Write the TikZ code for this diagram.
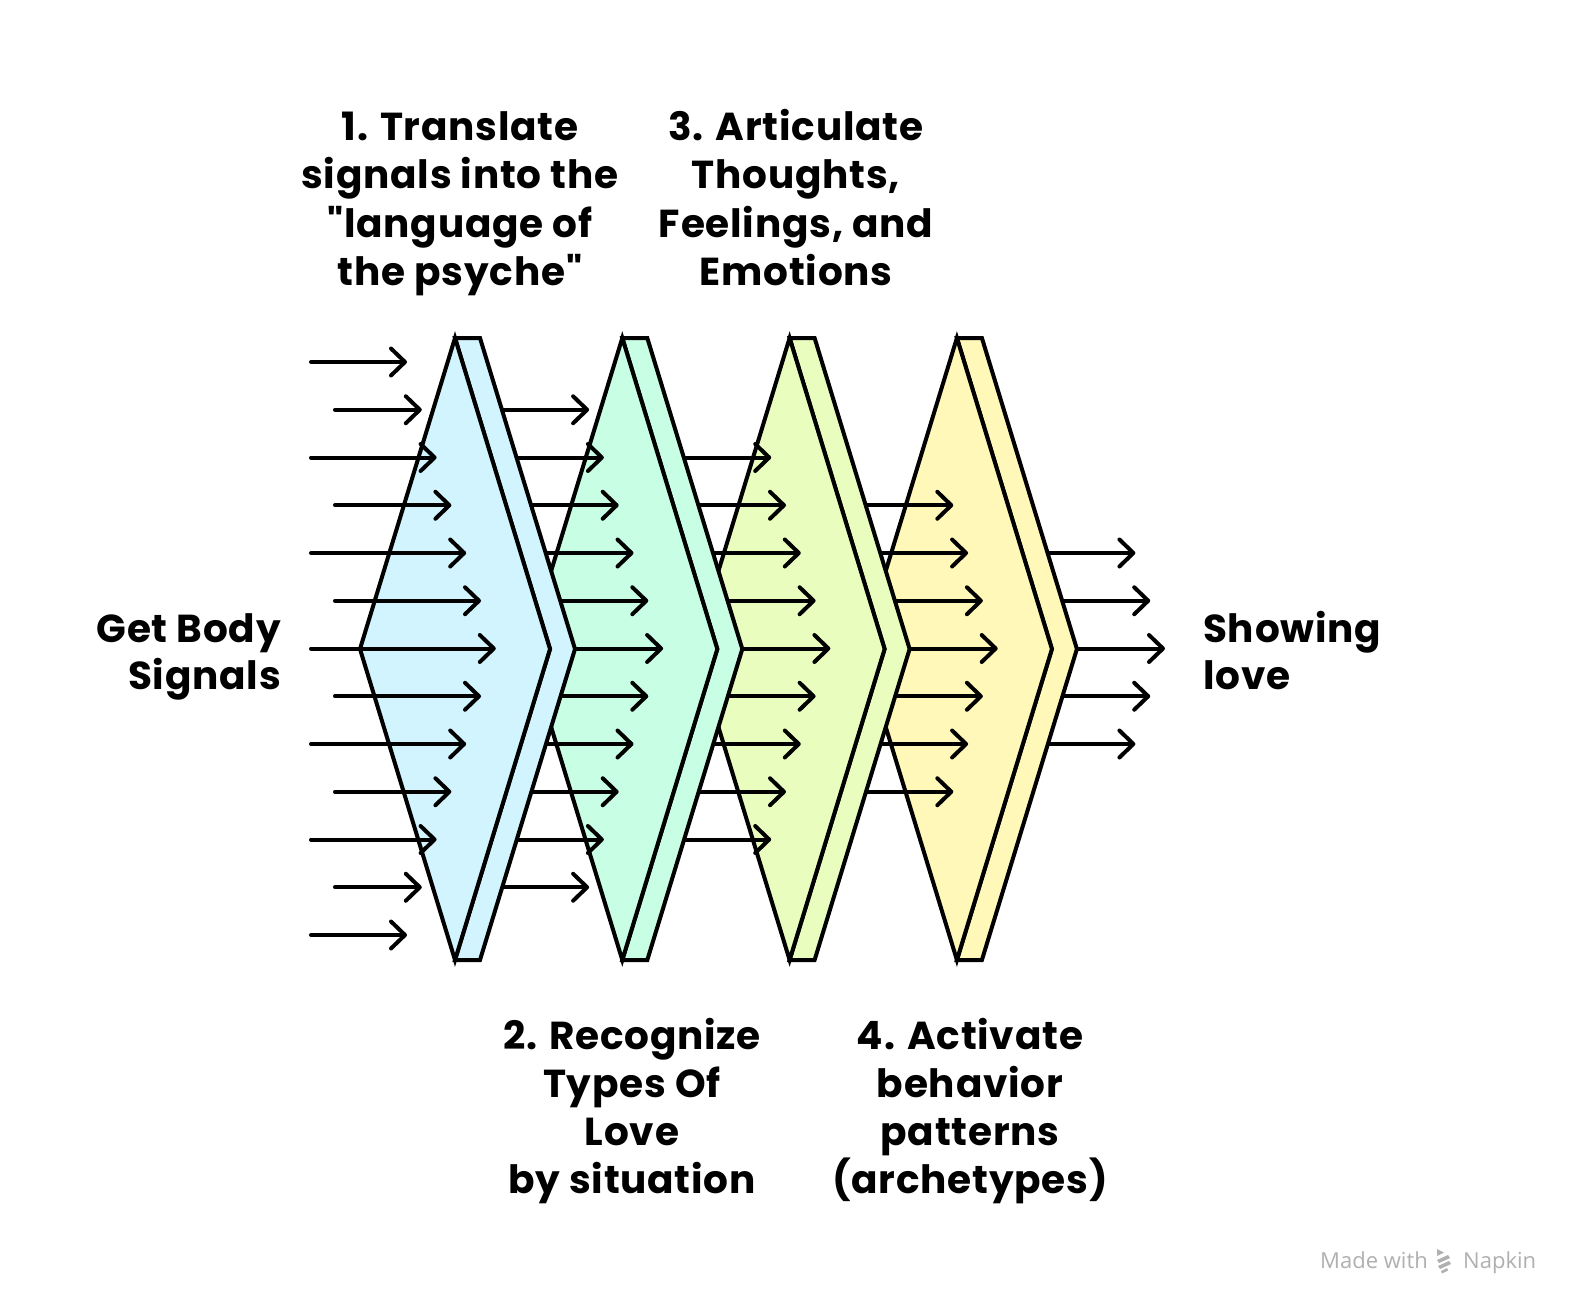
\documentclass[tikz,border=0pt]{standalone}
\usepackage{fontspec}
\newfontfamily\labelfont{Poppins}[LetterSpace=2]
\newfontfamily\madefont{Open Sans}
\usetikzlibrary{arrows.meta}
\definecolor{pblue}{HTML}{D1F4FE}
\definecolor{pgreen}{HTML}{C7FEE4}
\definecolor{plime}{HTML}{E9FEBE}
\definecolor{pyellow}{HTML}{FFF8B8}
\definecolor{madegray}{HTML}{B0B0B0}
\newcommand\arrowset[1]{%
  \pgfmathtruncatemacro\ilo{#1}%
  \pgfmathtruncatemacro\ihi{12-#1}%
  \foreach \i in {\ilo,...,\ihi}{%
    \pgfmathsetmacro\yy{362+47.75*\i}%
    \pgfmathsetmacro\xs{311+24*mod(\i,2)+167.3*#1}%
    \pgfmathsetmacro\xe{407+14.8*(6-abs(\i-6))+167.3*#1}%
    \coordinate (s#1-\i) at (\xs,\yy);
    \coordinate (e#1-\i) at (\xe,\yy);
    \draw[flow] (s#1-\i) -- (e#1-\i);
  }}
\newcommand\panel[2]{%
  \draw[panelline, fill=#2] (#1,338) -- (#1+25,338) -- (#1+120,649) -- (#1+25,960) -- (#1,960) -- (#1+95,649) -- cycle;
  \draw[panelline, fill=#2] (#1,338) -- (#1+95,649) -- (#1,960) -- (#1-95,649) -- cycle;
}
\begin{document}
\begin{tikzpicture}[x=1pt,y=-1pt,
  flow/.style={line width=4pt, line cap=round, -{Straight Barb[length=14pt,width=27pt,line join=round,line cap=round]}},
  panelline/.style={line width=4pt, line join=miter},
  lbl/.style={font=\labelfont\bfseries\fontsize{39}{47}\selectfont, inner sep=0pt, text=black, anchor=base},
  made/.style={font=\madefont\fontsize{22}{26}\selectfont, text=madegray, inner sep=0pt}]
\useasboundingbox (0,0) rectangle (1584,1316);
\fill[white] (0,0) rectangle (1584,1316);
\arrowset{4}
\panel{956.9}{pyellow}
\arrowset{3}
\panel{789.6}{plime}
\arrowset{2}
\panel{622.3}{pgreen}
\arrowset{1}
\panel{455}{pblue}
\arrowset{0}
% label 1
\node[lbl] (t1a) at (460,141) {1. Translate};
\node[lbl] (t1b) at (460,189) {signals into the};
\node[lbl] (t1c) at (460,237) {"language of};
\node[lbl] (t1d) at (460,285) {the psyche"};
% label 3
\node[lbl] (t3a) at (796,141) {3. Articulate};
\node[lbl] (t3b) at (796,189) {Thoughts,};
\node[lbl] (t3c) at (796,237) {Feelings, and};
\node[lbl] (t3d) at (796,285) {Emotions};
% label 2
\node[lbl] (t2a) at (632,1049) {2. Recognize};
\node[lbl] (t2b) at (632,1097) {Types Of};
\node[lbl] (t2c) at (632,1145) {Love};
\node[lbl] (t2d) at (632,1193) {by situation};
% label 4
\node[lbl] (t4a) at (970,1049) {4. Activate};
\node[lbl] (t4b) at (970,1097) {behavior};
\node[lbl] (t4c) at (970,1145) {patterns};
\node[lbl] (t4d) at (970,1193) {(archetypes)};
% input / output
\node[lbl, anchor=base east] (ina) at (281,642) {Get Body};
\node[lbl, anchor=base east] (inb) at (281,689) {Signals};
\node[lbl, anchor=base west] (outa) at (1203,642) {Showing};
\node[lbl, anchor=base west] (outb) at (1203,689) {love};
% footer
\node[made, anchor=base east] (made) at (1428,1268) {Made with};
\node[made, anchor=base west] (napkin) at (1463,1268) {Napkin};
\fill[madegray] (1437,1249) -- (1444,1252.5) -- (1437,1256) -- cycle;
\fill[madegray] (1437,1260) -- (1448,1255) -- (1450,1258) -- (1439,1263) -- cycle;
\fill[madegray] (1438,1266) -- (1449,1261) -- (1451,1264) -- (1440,1269) -- cycle;
\fill[madegray] (1441,1271) -- (1447,1268) -- (1448,1270.5) -- (1442,1273.5) -- cycle;
\end{tikzpicture}
\end{document}
